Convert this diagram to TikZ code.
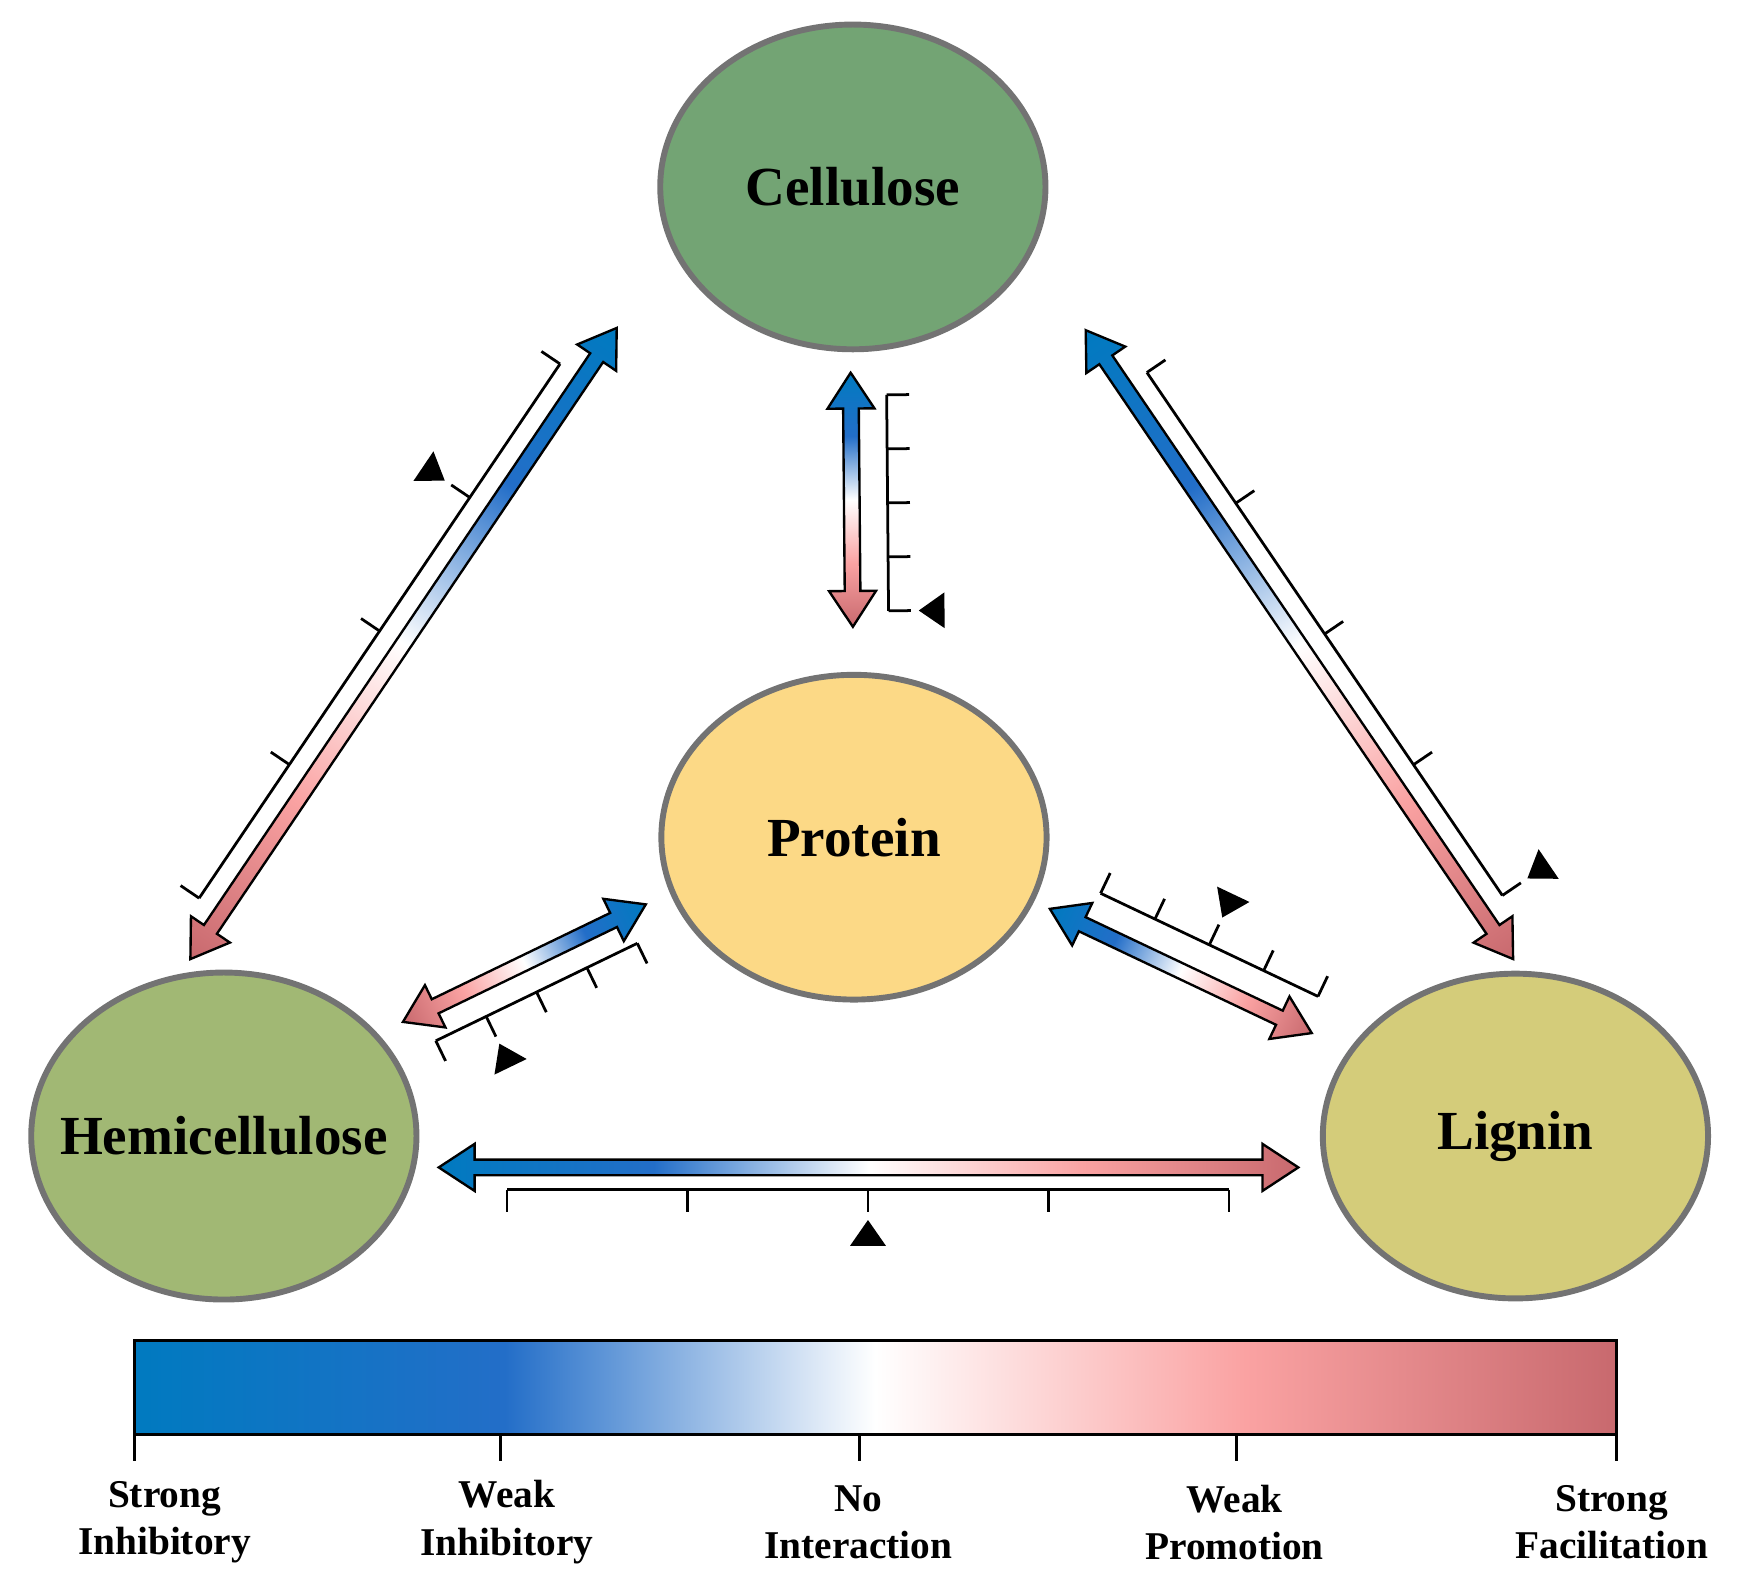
\documentclass[tikz,border=0pt]{standalone}
\usepackage{fontspec}
\setmainfont{Liberation Serif}
\usetikzlibrary{shapes.geometric}
\definecolor{sblue}{RGB}{0,122,192}
\definecolor{wblue}{RGB}{35,110,200}
\definecolor{wpink}{RGB}{250,162,162}
\definecolor{sred}{RGB}{200,105,110}
\definecolor{cellgreen}{RGB}{115,164,116}
\definecolor{protyellow}{RGB}{252,217,134}
\definecolor{hemigreen}{RGB}{161,184,116}
\definecolor{lignolive}{RGB}{212,204,122}
\pgfdeclarehorizontalshading{interact}{100bp}{color(0bp)=(sblue); color(25bp)=(sblue);
  color(37.5bp)=(wblue); color(50bp)=(white); color(62.5bp)=(wpink); color(75bp)=(sred); color(100bp)=(sred)}
\tikzset{
  blob/.style={ellipse, draw=black!55, line width=1.5pt, inner sep=0pt, minimum width=3.44cm, minimum height=2.9cm, font=\fontsize{14}{14}\selectfont\bfseries},
  scalelab/.style={align=center, font=\fontsize{10}{12}\selectfont\bfseries},
}
% gradient double arrow with scale: start x,y; end x,y; offset; ruler from; ruler to; marker fraction
\newcommand\garrow[8]{%
  \pgfmathsetmacro\gdx{#3-#1}\pgfmathsetmacro\gdy{-(#4-#2)}%
  \pgfmathsetmacro\gang{atan2(\gdy,\gdx)}\pgfmathsetmacro\glen{veclen(\gdx,\gdy)}%
  \pgfmathsetmacro\gsx{#1*0.01}\pgfmathsetmacro\gsy{-#2*0.01}%
  \pgfmathsetmacro\gs{#5>0?1:-1}%
  \begin{scope}[transform canvas={shift={(\gsx cm,\gsy cm)},rotate=\gang}]
    \shade[shading=interact, draw=black, line width=0.6pt] (0,0) -- (32,21) -- (32,7) -- (\glen-32,7)
      -- (\glen-32,21) -- (\glen,0) -- (\glen-32,-21) -- (\glen-32,-7) -- (32,-7) -- (32,-21) -- cycle;
    \draw[line width=0.7pt] (#6,#5) -- (#7,#5);
    \foreach \f in {0,0.25,0.5,0.75,1}
      \draw[line width=0.7pt] ({#6+\f*(#7-#6)},#5) -- ++(0,\gs*20);
    \pgfmathsetmacro\gt{#6+#8*(#7-#6)}%
    \fill ({\gt},{#5+\gs*27}) -- ({\gt-16},{#5+\gs*50}) -- ({\gt+16},{#5+\gs*50}) -- cycle;
  \end{scope}}
\begin{document}
\begin{tikzpicture}[x=0.01cm, y=0.01cm]
\useasboundingbox (0,0) rectangle (1560,-1411);

% components
\node[blob, fill=cellgreen] (cell) at (762,-167) {\makebox[0pt]{Cellulose}};
\node[blob, fill=protyellow] (prot) at (763,-748) {\makebox[0pt]{Protein}};
\node[blob, fill=hemigreen, minimum height=2.92cm] (hemi) at (200,-1015) {\makebox[0pt]{Hemicellulose}};
\node[blob, fill=lignolive] (lign) at (1354,-1015) {\makebox[0pt]{Lignin}};

% interactions
\garrow{551}{293}{170}{857}{-24}{55}{631}{0.25}
\garrow{760}{333}{762}{560}{32}{20}{213}{1}
\garrow{970}{295}{1352}{857}{24}{62}{627}{1}
\garrow{577}{808}{360}{913}{28}{22}{222}{0.75}
\garrow{938}{812}{1172}{923}{32}{35}{250}{0.5}
\garrow{392}{1043}{1160}{1043}{-20}{61}{706}{0.5}

% colour bar
\shade[shading=interact, draw=black, line width=0.8pt] (120,-1198) rectangle (1444,-1282);
\foreach \x/\txt in {147/{Strong\\Inhibitory}, 453/{Weak\\Inhibitory}, 767/{No\\Interaction}, 1103/{Weak\\Promotion}, 1440/{Strong\\Facilitation}}
  \node[scalelab] at (\x,-1360) {\txt};
\foreach \x in {120,447,768,1105,1444}
  \draw[line width=0.8pt] (\x,-1282) -- (\x,-1305);
\end{tikzpicture}
\end{document}
